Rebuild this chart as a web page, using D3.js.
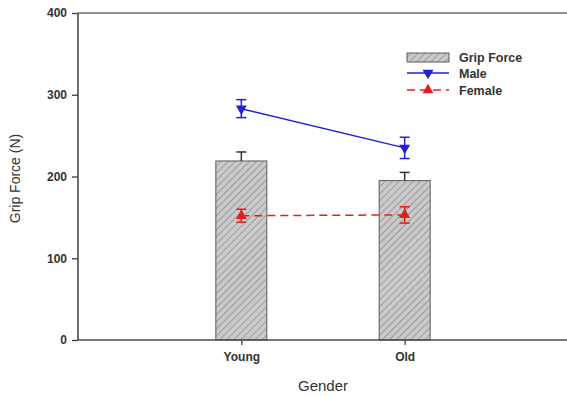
<!DOCTYPE html>
<html>
<head>
<meta charset="utf-8">
<script src="https://cdn.jsdelivr.net/npm/d3@7"></script>
<style>
  html, body { margin: 0; padding: 0; background: #fff; }
  svg { display: block; font-family: "Liberation Sans", Arial, sans-serif; }
</style>
</head>
<body>
<svg id="chart" width="567" height="396"></svg>
<script>
// Grip force by age group: bars = overall mean, lines = male / female means (N)
const groups = ["Young", "Old"];
const gripForce = [219, 195];
const gripForceErr = [11, 10];
const maleForce = [283, 235];
const maleErr = [11, 13];
const femaleForce = [152, 153];
const femaleErr = [8, 10];
const yTicks = [0, 100, 200, 300, 400];

const svg = d3.select("#chart");
const margin = { left: 78, right: -1, top: 13, bottom: 56 };
const W = 567, H = 396;

const x = d3.scalePoint()
  .domain(groups)
  .range([margin.left, W - margin.right])
  .padding(1);

const y = d3.scaleLinear()
  .domain([0, 400])
  .range([H - margin.bottom, margin.top]);

// diagonal hatch for the bars
const defs = svg.append("defs");
const pat = defs.append("pattern")
  .attr("id", "hatch")
  .attr("patternUnits", "userSpaceOnUse")
  .attr("width", 5).attr("height", 5)
  .attr("patternTransform", "rotate(45)");
pat.append("rect").attr("width", 5).attr("height", 5).attr("fill", "#cacaca");
pat.append("line")
  .attr("x1", 0).attr("y1", 0).attr("x2", 0).attr("y2", 5)
  .attr("stroke", "#7c7c7c").attr("stroke-width", 1.2);

const axisColor = "#4a4a4a";
const barW = 51;

// bars
svg.append("g").selectAll("rect")
  .data(groups)
  .join("rect")
  .attr("x", d => x(d) - barW / 2)
  .attr("y", (d, i) => y(gripForce[i]))
  .attr("width", barW)
  .attr("height", (d, i) => y(0) - y(gripForce[i]))
  .attr("fill", "url(#hatch)")
  .attr("stroke", "#5a5a5a")
  .attr("stroke-width", 1);

// bar error bars (upper only)
const barErr = svg.append("g").attr("stroke", "#333").attr("stroke-width", 1.5);
groups.forEach((g, i) => {
  const top = y(gripForce[i] + gripForceErr[i]);
  barErr.append("line").attr("x1", x(g)).attr("x2", x(g))
    .attr("y1", y(gripForce[i])).attr("y2", top);
  barErr.append("line").attr("x1", x(g) - 5).attr("x2", x(g) + 5)
    .attr("y1", top).attr("y2", top);
});

// axes
const yAxis = svg.append("g")
  .attr("transform", `translate(${margin.left},0)`)
  .call(d3.axisLeft(y).tickValues(yTicks).tickSize(6).tickPadding(5));
const xAxis = svg.append("g")
  .attr("transform", `translate(0,${y(0)})`)
  .call(d3.axisBottom(x).tickSize(5).tickPadding(7));
[yAxis, xAxis].forEach(a => {
  a.select(".domain").attr("stroke", axisColor).attr("stroke-width", 1.6);
  a.selectAll(".tick line").attr("stroke", axisColor).attr("stroke-width", 1.4);
  a.selectAll(".tick text").attr("fill", "#333").attr("font-size", 12)
    .attr("font-weight", "bold").attr("font-family", "Liberation Sans, Arial, sans-serif");
});
xAxis.select(".domain").attr("d", `M${margin.left},0H${W}`);
yAxis.select(".domain").attr("d", `M0,${y(0)}V${y(400)}`);

// top frame line
svg.append("line")
  .attr("x1", margin.left).attr("x2", W)
  .attr("y1", y(400)).attr("y2", y(400))
  .attr("stroke", "#6a6a6a").attr("stroke-width", 1.6);

// series lines with error bars and markers
function drawSeries(vals, errs, color, dash, down) {
  const g = svg.append("g");
  const line = d3.line().x((d, i) => x(groups[i])).y(d => y(d));
  g.append("path").datum(vals)
    .attr("d", line)
    .attr("fill", "none")
    .attr("stroke", color)
    .attr("stroke-width", 1.5)
    .attr("stroke-dasharray", dash);
  groups.forEach((grp, i) => {
    const cx = x(grp);
    const hi = y(vals[i] + errs[i]), lo = y(vals[i] - errs[i]);
    g.append("line").attr("x1", cx).attr("x2", cx).attr("y1", hi).attr("y2", lo)
      .attr("stroke", color).attr("stroke-width", 1.5);
    [hi, lo].forEach(yy => g.append("line")
      .attr("x1", cx - 5).attr("x2", cx + 5).attr("y1", yy).attr("y2", yy)
      .attr("stroke", color).attr("stroke-width", 1.5));
  });
  g.selectAll("path.sym").data(vals).join("path")
    .attr("class", "sym")
    .attr("d", d3.symbol(d3.symbolTriangle, 52))
    .attr("transform", (d, i) => `translate(${x(groups[i])},${y(d)}) rotate(${down ? 180 : 0})`)
    .attr("fill", color);
}
drawSeries(maleForce, maleErr, "#1f1fdc", null, true);
drawSeries(femaleForce, femaleErr, "#e81c1c", "8,5", false);

// axis titles
svg.append("text")
  .attr("x", 323).attr("y", 391)
  .attr("text-anchor", "middle")
  .attr("font-size", 15).attr("fill", "#333")
  .text("Gender");
svg.append("text")
  .attr("transform", `translate(20,${y(200) + 2}) rotate(-90)`)
  .attr("text-anchor", "middle")
  .attr("font-size", 14).attr("fill", "#333")
  .text("Grip Force (N)");

// legend
const lg = svg.append("g").attr("transform", "translate(407,0)");
lg.append("rect").attr("x", 0).attr("y", 53).attr("width", 42).attr("height", 9)
  .attr("fill", "url(#hatch)").attr("stroke", "#5a5a5a").attr("stroke-width", 1);
lg.append("line").attr("x1", 0).attr("x2", 42).attr("y1", 73).attr("y2", 73)
  .attr("stroke", "#1f1fdc").attr("stroke-width", 1.5);
lg.append("path").attr("d", d3.symbol(d3.symbolTriangle, 52))
  .attr("transform", "translate(21,73) rotate(180)").attr("fill", "#1f1fdc");
lg.append("line").attr("x1", 0).attr("x2", 42).attr("y1", 90).attr("y2", 90)
  .attr("stroke", "#e81c1c").attr("stroke-width", 1.5).attr("stroke-dasharray", "8,5");
lg.append("path").attr("d", d3.symbol(d3.symbolTriangle, 52))
  .attr("transform", "translate(21,90)").attr("fill", "#e81c1c");
[["Grip Force", 62], ["Male", 78], ["Female", 95]].forEach(([t, yy]) =>
  lg.append("text").attr("x", 52).attr("y", yy)
    .attr("font-size", 12.5).attr("font-weight", "bold").attr("fill", "#333").text(t));
</script>
</body>
</html>
